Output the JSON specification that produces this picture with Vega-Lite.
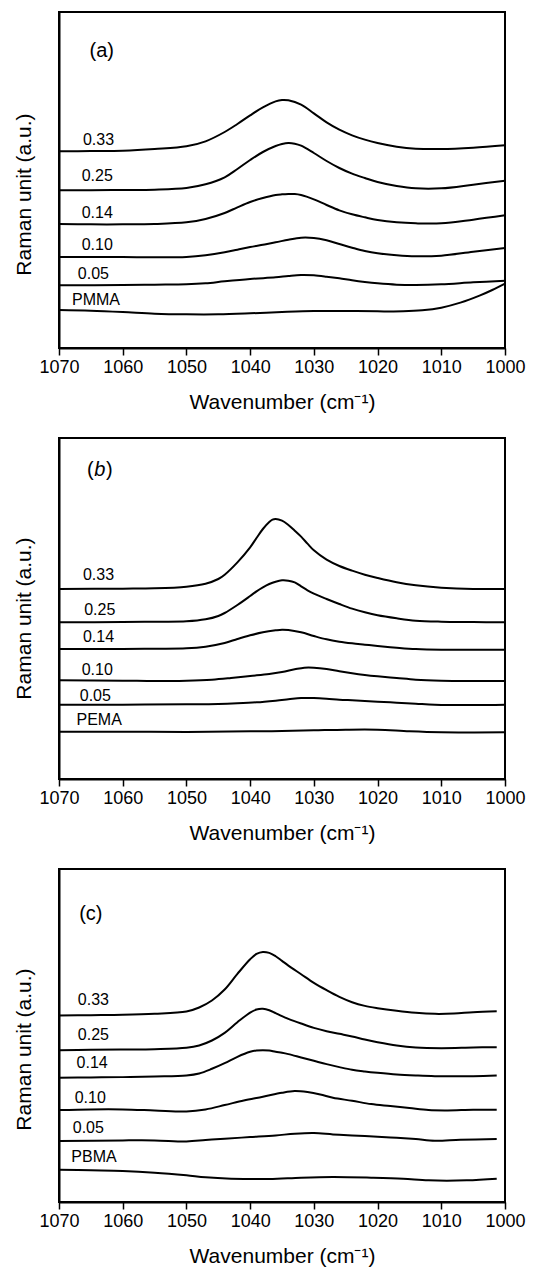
{
  "$schema": "https://vega.github.io/schema/vega-lite/v6.json",
  "padding": {"top": 11, "left": 12, "right": 5, "bottom": 0},
  "spacing": 24,
  "config": {
    "font": "Liberation Sans",
    "view": {"stroke": "black", "strokeWidth": 2},
    "axis": {"grid": false, "domainColor": "black", "domainWidth": 2, "tickColor": "black", "labelColor": "black", "titleColor": "black", "titleFontWeight": "normal", "labelFlush": false}
  },
  "datasets": {
    "a": [
      {"s":"0.33","w":1070,"v":590},{"s":"0.33","w":1065,"v":591},{"s":"0.33","w":1060,"v":592},{"s":"0.33","w":1055,"v":597},{"s":"0.33","w":1050,"v":605},{"s":"0.33","w":1047,"v":620},{"s":"0.33","w":1044,"v":648},{"s":"0.33","w":1042,"v":672},{"s":"0.33","w":1040,"v":698},{"s":"0.33","w":1038,"v":722},{"s":"0.33","w":1036,"v":740},{"s":"0.33","w":1035,"v":744},{"s":"0.33","w":1034,"v":743},{"s":"0.33","w":1032,"v":730},{"s":"0.33","w":1030,"v":704},{"s":"0.33","w":1028,"v":677},{"s":"0.33","w":1026,"v":655},{"s":"0.33","w":1024,"v":638},{"s":"0.33","w":1022,"v":625},{"s":"0.33","w":1020,"v":615},{"s":"0.33","w":1017,"v":604},{"s":"0.33","w":1014,"v":598},{"s":"0.33","w":1010,"v":597},{"s":"0.33","w":1005,"v":601},{"s":"0.33","w":1000,"v":608},
      {"s":"0.25","w":1070,"v":473},{"s":"0.25","w":1065,"v":473},{"s":"0.25","w":1060,"v":474},{"s":"0.25","w":1055,"v":475},{"s":"0.25","w":1050,"v":480},{"s":"0.25","w":1047,"v":491},{"s":"0.25","w":1044,"v":512},{"s":"0.25","w":1042,"v":537},{"s":"0.25","w":1040,"v":564},{"s":"0.25","w":1038,"v":588},{"s":"0.25","w":1036,"v":606},{"s":"0.25","w":1035,"v":612},{"s":"0.25","w":1034,"v":615},{"s":"0.25","w":1033,"v":613},{"s":"0.25","w":1032,"v":607},{"s":"0.25","w":1030,"v":585},{"s":"0.25","w":1028,"v":561},{"s":"0.25","w":1026,"v":540},{"s":"0.25","w":1024,"v":523},{"s":"0.25","w":1022,"v":510},{"s":"0.25","w":1020,"v":498},{"s":"0.25","w":1017,"v":486},{"s":"0.25","w":1014,"v":479},{"s":"0.25","w":1010,"v":479},{"s":"0.25","w":1005,"v":490},{"s":"0.25","w":1000,"v":502},
      {"s":"0.14","w":1070,"v":372},{"s":"0.14","w":1065,"v":371},{"s":"0.14","w":1060,"v":371},{"s":"0.14","w":1055,"v":372},{"s":"0.14","w":1050,"v":377},{"s":"0.14","w":1047,"v":387},{"s":"0.14","w":1044,"v":405},{"s":"0.14","w":1042,"v":422},{"s":"0.14","w":1040,"v":438},{"s":"0.14","w":1038,"v":450},{"s":"0.14","w":1036,"v":459},{"s":"0.14","w":1035,"v":461},{"s":"0.14","w":1034,"v":462},{"s":"0.14","w":1033,"v":462},{"s":"0.14","w":1032,"v":459},{"s":"0.14","w":1030,"v":446},{"s":"0.14","w":1028,"v":429},{"s":"0.14","w":1026,"v":413},{"s":"0.14","w":1024,"v":401},{"s":"0.14","w":1022,"v":392},{"s":"0.14","w":1020,"v":384},{"s":"0.14","w":1017,"v":377},{"s":"0.14","w":1014,"v":374},{"s":"0.14","w":1010,"v":374},{"s":"0.14","w":1005,"v":385},{"s":"0.14","w":1000,"v":398},
      {"s":"0.10","w":1070,"v":273},{"s":"0.10","w":1065,"v":273},{"s":"0.10","w":1060,"v":273},{"s":"0.10","w":1055,"v":272},{"s":"0.10","w":1050,"v":273},{"s":"0.10","w":1047,"v":278},{"s":"0.10","w":1044,"v":287},{"s":"0.10","w":1042,"v":295},{"s":"0.10","w":1040,"v":303},{"s":"0.10","w":1038,"v":310},{"s":"0.10","w":1036,"v":317},{"s":"0.10","w":1034,"v":325},{"s":"0.10","w":1032,"v":331},{"s":"0.10","w":1030,"v":330},{"s":"0.10","w":1028,"v":323},{"s":"0.10","w":1026,"v":312},{"s":"0.10","w":1024,"v":301},{"s":"0.10","w":1022,"v":291},{"s":"0.10","w":1020,"v":284},{"s":"0.10","w":1017,"v":278},{"s":"0.10","w":1014,"v":275},{"s":"0.10","w":1010,"v":277},{"s":"0.10","w":1005,"v":289},{"s":"0.10","w":1000,"v":300},
      {"s":"0.05","w":1070,"v":188},{"s":"0.05","w":1060,"v":189},{"s":"0.05","w":1055,"v":190},{"s":"0.05","w":1050,"v":191},{"s":"0.05","w":1047,"v":194},{"s":"0.05","w":1044,"v":200},{"s":"0.05","w":1040,"v":207},{"s":"0.05","w":1036,"v":212},{"s":"0.05","w":1034,"v":216},{"s":"0.05","w":1032,"v":219},{"s":"0.05","w":1030,"v":218},{"s":"0.05","w":1028,"v":214},{"s":"0.05","w":1026,"v":209},{"s":"0.05","w":1024,"v":203},{"s":"0.05","w":1022,"v":198},{"s":"0.05","w":1020,"v":194},{"s":"0.05","w":1017,"v":190},{"s":"0.05","w":1014,"v":189},{"s":"0.05","w":1010,"v":191},{"s":"0.05","w":1005,"v":197},{"s":"0.05","w":1000,"v":202},
      {"s":"PMMA","w":1070,"v":114},{"s":"PMMA","w":1065,"v":112},{"s":"PMMA","w":1060,"v":108},{"s":"PMMA","w":1055,"v":103},{"s":"PMMA","w":1050,"v":101},{"s":"PMMA","w":1045,"v":101},{"s":"PMMA","w":1040,"v":104},{"s":"PMMA","w":1035,"v":108},{"s":"PMMA","w":1030,"v":111},{"s":"PMMA","w":1025,"v":111},{"s":"PMMA","w":1020,"v":110},{"s":"PMMA","w":1016,"v":110},{"s":"PMMA","w":1013,"v":113},{"s":"PMMA","w":1010,"v":121},{"s":"PMMA","w":1007,"v":136},{"s":"PMMA","w":1004,"v":157},{"s":"PMMA","w":1002,"v":174},{"s":"PMMA","w":1000,"v":193}
    ],
    "la": [
      {"t":"0.33","w":1063.8,"v":623,"z":16},
      {"t":"0.25","w":1064.0,"v":515,"z":16},
      {"t":"0.14","w":1064.0,"v":405,"z":16},
      {"t":"0.10","w":1064.0,"v":308,"z":16},
      {"t":"0.05","w":1064.6,"v":223,"z":16},
      {"t":"PMMA","w":1064.2,"v":143,"z":16},
      {"t":"(a)","w":1063.3,"v":890,"z":20}
    ],
    "b": [
      {"s":"0.33","w":1070,"v":570},{"s":"0.33","w":1060,"v":571},{"s":"0.33","w":1055,"v":572},{"s":"0.33","w":1050,"v":577},{"s":"0.33","w":1047,"v":586},{"s":"0.33","w":1045,"v":600},{"s":"0.33","w":1044,"v":613},{"s":"0.33","w":1042,"v":650},{"s":"0.33","w":1040,"v":695},{"s":"0.33","w":1039,"v":723},{"s":"0.33","w":1038,"v":750},{"s":"0.33","w":1037,"v":771},{"s":"0.33","w":1036.5,"v":778},{"s":"0.33","w":1036,"v":780},{"s":"0.33","w":1035,"v":775},{"s":"0.33","w":1034,"v":762},{"s":"0.33","w":1033,"v":745},{"s":"0.33","w":1032,"v":727},{"s":"0.33","w":1031,"v":706},{"s":"0.33","w":1030,"v":686},{"s":"0.33","w":1028,"v":658},{"s":"0.33","w":1026,"v":639},{"s":"0.33","w":1024,"v":625},{"s":"0.33","w":1022,"v":613},{"s":"0.33","w":1020,"v":603},{"s":"0.33","w":1017,"v":590},{"s":"0.33","w":1014,"v":581},{"s":"0.33","w":1010,"v":574},{"s":"0.33","w":1005,"v":570},{"s":"0.33","w":1000,"v":570},
      {"s":"0.25","w":1070,"v":470},{"s":"0.25","w":1060,"v":471},{"s":"0.25","w":1055,"v":472},{"s":"0.25","w":1050,"v":473},{"s":"0.25","w":1047,"v":479},{"s":"0.25","w":1045,"v":489},{"s":"0.25","w":1044,"v":498},{"s":"0.25","w":1042,"v":522},{"s":"0.25","w":1040,"v":549},{"s":"0.25","w":1039,"v":563},{"s":"0.25","w":1038,"v":575},{"s":"0.25","w":1037,"v":585},{"s":"0.25","w":1036,"v":592},{"s":"0.25","w":1035,"v":596},{"s":"0.25","w":1034,"v":595},{"s":"0.25","w":1033,"v":590},{"s":"0.25","w":1032,"v":578},{"s":"0.25","w":1031,"v":566},{"s":"0.25","w":1030,"v":556},{"s":"0.25","w":1028,"v":540},{"s":"0.25","w":1026,"v":525},{"s":"0.25","w":1024,"v":511},{"s":"0.25","w":1022,"v":500},{"s":"0.25","w":1020,"v":491},{"s":"0.25","w":1017,"v":482},{"s":"0.25","w":1014,"v":475},{"s":"0.25","w":1010,"v":472},{"s":"0.25","w":1005,"v":471},{"s":"0.25","w":1000,"v":470},
      {"s":"0.14","w":1070,"v":390},{"s":"0.14","w":1060,"v":390},{"s":"0.14","w":1055,"v":391},{"s":"0.14","w":1050,"v":392},{"s":"0.14","w":1047,"v":397},{"s":"0.14","w":1044,"v":408},{"s":"0.14","w":1042,"v":420},{"s":"0.14","w":1040,"v":431},{"s":"0.14","w":1038,"v":440},{"s":"0.14","w":1036,"v":446},{"s":"0.14","w":1035,"v":448},{"s":"0.14","w":1034,"v":447},{"s":"0.14","w":1032,"v":440},{"s":"0.14","w":1030,"v":429},{"s":"0.14","w":1028,"v":419},{"s":"0.14","w":1026,"v":412},{"s":"0.14","w":1024,"v":407},{"s":"0.14","w":1022,"v":403},{"s":"0.14","w":1020,"v":399},{"s":"0.14","w":1017,"v":394},{"s":"0.14","w":1014,"v":390},{"s":"0.14","w":1010,"v":388},{"s":"0.14","w":1000,"v":388},
      {"s":"0.10","w":1070,"v":296},{"s":"0.10","w":1060,"v":295},{"s":"0.10","w":1055,"v":294},{"s":"0.10","w":1050,"v":295},{"s":"0.10","w":1046,"v":298},{"s":"0.10","w":1043,"v":303},{"s":"0.10","w":1040,"v":309},{"s":"0.10","w":1037,"v":315},{"s":"0.10","w":1035,"v":321},{"s":"0.10","w":1033,"v":329},{"s":"0.10","w":1031.5,"v":334},{"s":"0.10","w":1030,"v":334},{"s":"0.10","w":1028,"v":330},{"s":"0.10","w":1026,"v":323},{"s":"0.10","w":1024,"v":317},{"s":"0.10","w":1022,"v":312},{"s":"0.10","w":1020,"v":308},{"s":"0.10","w":1017,"v":303},{"s":"0.10","w":1014,"v":298},{"s":"0.10","w":1010,"v":295},{"s":"0.10","w":1005,"v":294},{"s":"0.10","w":1000,"v":294},
      {"s":"0.05","w":1070,"v":223},{"s":"0.05","w":1060,"v":223},{"s":"0.05","w":1050,"v":224},{"s":"0.05","w":1045,"v":225},{"s":"0.05","w":1042,"v":227},{"s":"0.05","w":1039,"v":230},{"s":"0.05","w":1036,"v":235},{"s":"0.05","w":1034,"v":239},{"s":"0.05","w":1032,"v":243},{"s":"0.05","w":1030,"v":243},{"s":"0.05","w":1028,"v":241},{"s":"0.05","w":1026,"v":238},{"s":"0.05","w":1024,"v":236},{"s":"0.05","w":1022,"v":234},{"s":"0.05","w":1020,"v":232},{"s":"0.05","w":1017,"v":229},{"s":"0.05","w":1014,"v":226},{"s":"0.05","w":1011,"v":223},{"s":"0.05","w":1005,"v":222},{"s":"0.05","w":1000,"v":223},
      {"s":"PEMA","w":1070,"v":142},{"s":"PEMA","w":1060,"v":142},{"s":"PEMA","w":1050,"v":141},{"s":"PEMA","w":1040,"v":143},{"s":"PEMA","w":1035,"v":144},{"s":"PEMA","w":1030,"v":146},{"s":"PEMA","w":1025,"v":148},{"s":"PEMA","w":1020,"v":148},{"s":"PEMA","w":1015,"v":143},{"s":"PEMA","w":1010,"v":140},{"s":"PEMA","w":1000,"v":140}
    ],
    "lb": [
      {"t":"0.33","w":1063.8,"v":611,"z":16},
      {"t":"0.25","w":1063.6,"v":506,"z":16},
      {"t":"0.14","w":1063.8,"v":426,"z":16},
      {"t":"0.10","w":1064.0,"v":327,"z":16},
      {"t":"0.05","w":1064.3,"v":248,"z":16},
      {"t":"PEMA","w":1063.7,"v":178,"z":16},
      {"t":"(","w":1065.1,"v":928,"z":20},
      {"t":")","w":1062.1,"v":928,"z":20}
    ],
    "lbi": [
      {"t":"b","w":1063.6,"v":928}
    ],
    "c": [
      {"s":"0.33","w":1070,"v":560},{"s":"0.33","w":1065,"v":561},{"s":"0.33","w":1060,"v":562},{"s":"0.33","w":1055,"v":565},{"s":"0.33","w":1050,"v":572},{"s":"0.33","w":1048,"v":584},{"s":"0.33","w":1046,"v":605},{"s":"0.33","w":1044,"v":638},{"s":"0.33","w":1042,"v":685},{"s":"0.33","w":1040,"v":729},{"s":"0.33","w":1039,"v":745},{"s":"0.33","w":1038,"v":751},{"s":"0.33","w":1037,"v":748},{"s":"0.33","w":1036,"v":738},{"s":"0.33","w":1035,"v":724},{"s":"0.33","w":1034,"v":710},{"s":"0.33","w":1032,"v":684},{"s":"0.33","w":1030,"v":658},{"s":"0.33","w":1028,"v":636},{"s":"0.33","w":1026,"v":616},{"s":"0.33","w":1024,"v":600},{"s":"0.33","w":1022,"v":589},{"s":"0.33","w":1020,"v":582},{"s":"0.33","w":1017,"v":574},{"s":"0.33","w":1014,"v":568},{"s":"0.33","w":1011,"v":565},{"s":"0.33","w":1008,"v":566},{"s":"0.33","w":1005,"v":570},{"s":"0.33","w":1001.3,"v":573},
      {"s":"0.25","w":1070,"v":456},{"s":"0.25","w":1065,"v":457},{"s":"0.25","w":1060,"v":458},{"s":"0.25","w":1055,"v":459},{"s":"0.25","w":1050,"v":463},{"s":"0.25","w":1048,"v":470},{"s":"0.25","w":1046,"v":485},{"s":"0.25","w":1044,"v":508},{"s":"0.25","w":1042,"v":540},{"s":"0.25","w":1040,"v":569},{"s":"0.25","w":1039,"v":578},{"s":"0.25","w":1038,"v":580},{"s":"0.25","w":1037,"v":576},{"s":"0.25","w":1036,"v":567},{"s":"0.25","w":1035,"v":558},{"s":"0.25","w":1034,"v":550},{"s":"0.25","w":1032,"v":536},{"s":"0.25","w":1030,"v":523},{"s":"0.25","w":1028,"v":513},{"s":"0.25","w":1026,"v":505},{"s":"0.25","w":1024,"v":497},{"s":"0.25","w":1022,"v":488},{"s":"0.25","w":1020,"v":480},{"s":"0.25","w":1017,"v":470},{"s":"0.25","w":1014,"v":464},{"s":"0.25","w":1010,"v":462},{"s":"0.25","w":1005,"v":464},{"s":"0.25","w":1001.3,"v":465},
      {"s":"0.14","w":1070,"v":373},{"s":"0.14","w":1065,"v":374},{"s":"0.14","w":1060,"v":375},{"s":"0.14","w":1055,"v":377},{"s":"0.14","w":1050,"v":380},{"s":"0.14","w":1048,"v":386},{"s":"0.14","w":1046,"v":400},{"s":"0.14","w":1044,"v":417},{"s":"0.14","w":1042,"v":436},{"s":"0.14","w":1040,"v":451},{"s":"0.14","w":1039,"v":455},{"s":"0.14","w":1038,"v":456},{"s":"0.14","w":1037,"v":455},{"s":"0.14","w":1036,"v":451},{"s":"0.14","w":1035,"v":448},{"s":"0.14","w":1034,"v":444},{"s":"0.14","w":1032,"v":434},{"s":"0.14","w":1030,"v":424},{"s":"0.14","w":1028,"v":414},{"s":"0.14","w":1026,"v":405},{"s":"0.14","w":1024,"v":397},{"s":"0.14","w":1022,"v":392},{"s":"0.14","w":1020,"v":388},{"s":"0.14","w":1017,"v":383},{"s":"0.14","w":1014,"v":380},{"s":"0.14","w":1011,"v":378},{"s":"0.14","w":1005,"v":378},{"s":"0.14","w":1001.3,"v":380},
      {"s":"0.10","w":1070,"v":276},{"s":"0.10","w":1065,"v":278},{"s":"0.10","w":1060,"v":278},{"s":"0.10","w":1055,"v":275},{"s":"0.10","w":1050,"v":272},{"s":"0.10","w":1047,"v":278},{"s":"0.10","w":1044,"v":291},{"s":"0.10","w":1041,"v":305},{"s":"0.10","w":1038,"v":316},{"s":"0.10","w":1035,"v":328},{"s":"0.10","w":1033,"v":333},{"s":"0.10","w":1031,"v":330},{"s":"0.10","w":1029,"v":323},{"s":"0.10","w":1027,"v":313},{"s":"0.10","w":1024,"v":304},{"s":"0.10","w":1021,"v":294},{"s":"0.10","w":1018,"v":288},{"s":"0.10","w":1015,"v":282},{"s":"0.10","w":1012,"v":276},{"s":"0.10","w":1009,"v":275},{"s":"0.10","w":1005,"v":277},{"s":"0.10","w":1001.3,"v":277},
      {"s":"0.05","w":1070,"v":183},{"s":"0.05","w":1060,"v":185},{"s":"0.05","w":1055,"v":185},{"s":"0.05","w":1050,"v":182},{"s":"0.05","w":1047,"v":186},{"s":"0.05","w":1044,"v":190},{"s":"0.05","w":1040,"v":195},{"s":"0.05","w":1036,"v":200},{"s":"0.05","w":1033,"v":205},{"s":"0.05","w":1030,"v":207},{"s":"0.05","w":1027,"v":203},{"s":"0.05","w":1024,"v":200},{"s":"0.05","w":1020,"v":196},{"s":"0.05","w":1017,"v":193},{"s":"0.05","w":1014,"v":189},{"s":"0.05","w":1011,"v":184},{"s":"0.05","w":1007,"v":187},{"s":"0.05","w":1001.3,"v":189},
      {"s":"PBMA","w":1070,"v":97},{"s":"PBMA","w":1065,"v":95},{"s":"PBMA","w":1060,"v":93},{"s":"PBMA","w":1055,"v":88},{"s":"PBMA","w":1050,"v":80},{"s":"PBMA","w":1047,"v":74},{"s":"PBMA","w":1043,"v":70},{"s":"PBMA","w":1037,"v":69},{"s":"PBMA","w":1032,"v":73},{"s":"PBMA","w":1027,"v":75},{"s":"PBMA","w":1021,"v":73},{"s":"PBMA","w":1016,"v":70},{"s":"PBMA","w":1012,"v":65},{"s":"PBMA","w":1006,"v":65},{"s":"PBMA","w":1001.3,"v":70}
    ],
    "lc": [
      {"t":"0.33","w":1064.6,"v":608,"z":16},
      {"t":"0.25","w":1064.6,"v":503,"z":16},
      {"t":"0.14","w":1064.8,"v":418,"z":16},
      {"t":"0.10","w":1065.1,"v":313,"z":16},
      {"t":"0.05","w":1065.4,"v":223,"z":16},
      {"t":"PBMA","w":1064.5,"v":136,"z":16},
      {"t":"(c)","w":1065.0,"v":866,"z":20}
    ]
  },
  "vconcat": [
    {
      "width": 446, "height": 336,
      "layer": [
        {
          "data": {"name": "a"},
          "mark": {"type": "line", "color": "black", "strokeWidth": 2, "interpolate": "catmull-rom"},
          "encoding": {
            "x": {"field": "w", "type": "quantitative", "scale": {"domain": [1000, 1070], "reverse": true, "nice": false},
                  "axis": {"values": [1070,1060,1050,1040,1030,1020,1010,1000], "format": "d", "tickSize": 7, "tickWidth": 1.5, "labelFontSize": 18, "labelPadding": 3, "title": "Wavenumber (cm⁻¹)", "titleFontSize": 21, "titlePadding": 15}},
            "y": {"field": "v", "type": "quantitative", "scale": {"domain": [0, 1008], "nice": false},
                  "axis": {"labels": false, "ticks": false, "title": "Raman unit (a.u.)", "titleFontSize": 21, "titlePadding": 25, "titleY": 182}},
            "detail": {"field": "s"}
          }
        },
        {
          "data": {"name": "la"},
          "mark": {"type": "text", "color": "black", "align": "center", "baseline": "middle"},
          "encoding": {
            "x": {"field": "w", "type": "quantitative"},
            "y": {"field": "v", "type": "quantitative"},
            "text": {"field": "t"},
            "size": {"field": "z", "type": "quantitative", "scale": null}
          }
        }
      ]
    },
    {
      "width": 446, "height": 341,
      "layer": [
        {
          "data": {"name": "b"},
          "mark": {"type": "line", "color": "black", "strokeWidth": 2, "interpolate": "catmull-rom"},
          "encoding": {
            "x": {"field": "w", "type": "quantitative", "scale": {"domain": [1000, 1070], "reverse": true, "nice": false},
                  "axis": {"values": [1070,1060,1050,1040,1030,1020,1010,1000], "format": "d", "tickSize": 7, "tickWidth": 1.5, "labelFontSize": 18, "labelPadding": 3, "title": "Wavenumber (cm⁻¹)", "titleFontSize": 21, "titlePadding": 15}},
            "y": {"field": "v", "type": "quantitative", "scale": {"domain": [0, 1023], "nice": false},
                  "axis": {"labels": false, "ticks": false, "title": "Raman unit (a.u.)", "titleFontSize": 21, "titlePadding": 25, "titleY": 180}},
            "detail": {"field": "s"}
          }
        },
        {
          "data": {"name": "lb"},
          "mark": {"type": "text", "color": "black", "align": "center", "baseline": "middle"},
          "encoding": {
            "x": {"field": "w", "type": "quantitative"},
            "y": {"field": "v", "type": "quantitative"},
            "text": {"field": "t"},
            "size": {"field": "z", "type": "quantitative", "scale": null}
          }
        },
        {
          "data": {"name": "lbi"},
          "mark": {"type": "text", "color": "black", "align": "center", "baseline": "middle", "fontStyle": "italic", "fontSize": 20},
          "encoding": {
            "x": {"field": "w", "type": "quantitative"},
            "y": {"field": "v", "type": "quantitative"},
            "text": {"field": "t"}
          }
        }
      ]
    },
    {
      "width": 446, "height": 333,
      "layer": [
        {
          "data": {"name": "c"},
          "mark": {"type": "line", "color": "black", "strokeWidth": 2, "interpolate": "catmull-rom"},
          "encoding": {
            "x": {"field": "w", "type": "quantitative", "scale": {"domain": [1000, 1070], "reverse": true, "nice": false},
                  "axis": {"values": [1070,1060,1050,1040,1030,1020,1010,1000], "format": "d", "tickSize": 7, "tickWidth": 1.5, "labelFontSize": 18, "labelPadding": 3, "title": "Wavenumber (cm⁻¹)", "titleFontSize": 21, "titlePadding": 15}},
            "y": {"field": "v", "type": "quantitative", "scale": {"domain": [0, 1000], "nice": false},
                  "axis": {"labels": false, "ticks": false, "title": "Raman unit (a.u.)", "titleFontSize": 21, "titlePadding": 25, "titleY": 180}},
            "detail": {"field": "s"}
          }
        },
        {
          "data": {"name": "lc"},
          "mark": {"type": "text", "color": "black", "align": "center", "baseline": "middle"},
          "encoding": {
            "x": {"field": "w", "type": "quantitative"},
            "y": {"field": "v", "type": "quantitative"},
            "text": {"field": "t"},
            "size": {"field": "z", "type": "quantitative", "scale": null}
          }
        }
      ]
    }
  ]
}
